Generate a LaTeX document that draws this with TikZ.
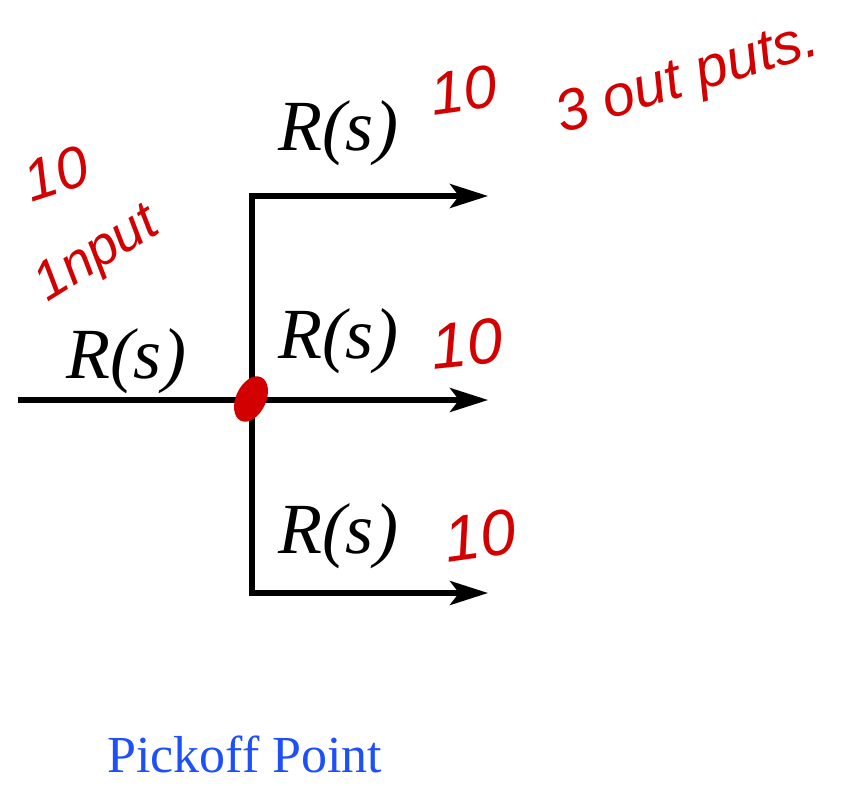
\documentclass[tikz,border=0pt]{standalone}
\usepackage{fontspec}
\setmainfont{Liberation Serif}
\newfontfamily\handfont{Liberation Sans}
\usetikzlibrary{arrows.meta}
\definecolor{pen}{RGB}{210,0,0}
\definecolor{titleblue}{RGB}{30,80,250}
\begin{document}
\begin{tikzpicture}[x=1pt,y=-1pt,
  sig/.style={line width=5.5pt,black},
  sigarrow/.style={sig,-{Stealth[length=38pt,width=24pt,inset=9pt]}},
  lbl/.style={anchor=base,inner sep=0pt,font=\fontsize{72}{80}\selectfont\itshape},
  hand/.style={pen,inner sep=0pt,font=\handfont\itshape\fontsize{#1}{#1}\selectfont},
  hand/.default=60]
\useasboundingbox (0,0) rectangle (859,785);
% junction points
\coordinate (in) at (18,400);
\coordinate (pick) at (252,400);
\coordinate (tc) at (252,196);
\coordinate (bc) at (252,593);
\coordinate (o1) at (488,196);
\coordinate (o2) at (488,400);
\coordinate (o3) at (488,593);
% signal lines
\draw[sig] (in) -- (pick);
\draw[sigarrow] (pick) -- (o2);
\draw[sigarrow] (pick) -- (tc) -- (o1);
\draw[sigarrow] (pick) -- (bc) -- (o3);
% labels
\node[lbl] (lin) at (126,378) {R(s)};
\node[lbl] (l1) at (338,150) {R(s)};
\node[lbl] (l2) at (338,358) {R(s)};
\node[lbl] (l3) at (338,553) {R(s)};
% pickoff mark
\coordinate (blob) at (251,399);
\fill[pen,rotate around={-25:(blob)}] (blob) ellipse [x radius=15pt, y radius=24pt];
% handwritten annotations
\node[hand=58,rotate=18] (h10a) at (56,174) {10};
\node[hand=54,rotate=32] (hin) at (98,256) {1nput};
\node[hand=60,rotate=8] (h10b) at (464,90) {10};
\node[hand=58,rotate=17] (hout) at (688,80) {3 out puts.};
\node[hand=64,rotate=6] (h10c) at (467,344) {10};
\node[hand=64,rotate=8] (h10d) at (480,536) {10};
% title
\node[anchor=base,text=titleblue,inner sep=0pt,font=\fontsize{52}{60}\selectfont] (title) at (245,772) {Pickoff Point};
\end{tikzpicture}
\end{document}
